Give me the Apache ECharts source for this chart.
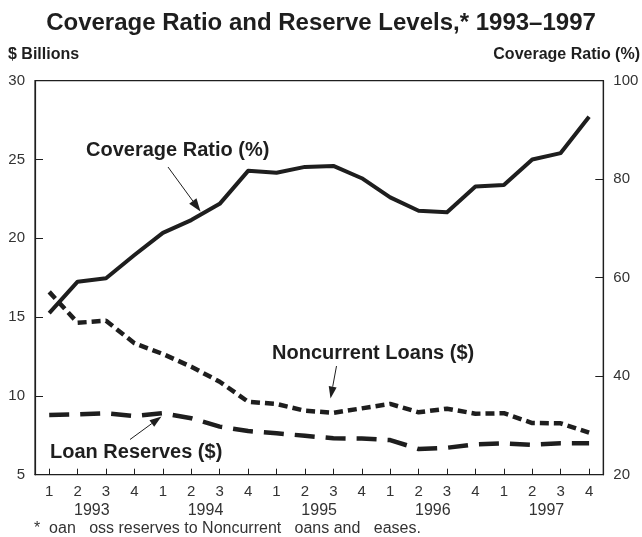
<!DOCTYPE html>
<html>
<head>
<meta charset="utf-8">
<title>Coverage Ratio and Reserve Levels, 1993–1997</title>
<script src="https://cdn.jsdelivr.net/npm/echarts@6/dist/echarts.min.js"></script>
<style>
  html, body { margin: 0; padding: 0; background: #fff; }
  #chart { width: 642px; height: 537px; }
</style>
</head>
<body>
<div id="chart"></div>
<script>
// Quarterly series, 1993 Q1 – 1997 Q4
const years = ['1993', '1994', '1995', '1996', '1997'];
const quarterLabels = ['1', '2', '3', '4'];

// Coverage ratio, percent (right axis)
const coverageRatio = [52.8, 59.2, 59.9, 64.6, 69.1, 71.7, 75.0, 81.7, 81.3, 82.5,
                       82.7, 80.2, 76.3, 73.6, 73.3, 78.5, 78.8, 84.0, 85.3, 92.7];
// Noncurrent loans, $ billions (left axis)
const noncurrentLoans = [16.6, 14.64, 14.77, 13.34, 12.66, 11.85, 10.9, 9.63, 9.49, 9.06,
                         8.93, 9.21, 9.49, 8.96, 9.19, 8.87, 8.9, 8.28, 8.26, 7.67];
// Loan loss reserves, $ billions (left axis)
const loanReserves = [8.79, 8.83, 8.9, 8.72, 8.9, 8.58, 8.05, 7.77, 7.63, 7.47,
                      7.31, 7.29, 7.2, 6.63, 6.71, 6.93, 6.99, 6.9, 6.99, 6.99];

const categories = [];
years.forEach(y => quarterLabels.forEach(q => categories.push(y + '-' + q)));

const FONT = "'Liberation Sans', Arial, Helvetica, sans-serif";
const INK = '#1e1e1e';
const LABEL = '#333';

const chart = echarts.init(document.getElementById('chart'), null, { renderer: 'canvas' });

// Thin arrow with a filled head pointing at (x2, y2)
function arrow(x1, y1, x2, y2, headLen, headHalf) {
  const dx = x2 - x1, dy = y2 - y1;
  const len = Math.sqrt(dx * dx + dy * dy);
  const ux = dx / len, uy = dy / len;
  const bx = x2 - ux * headLen, by = y2 - uy * headLen;
  return {
    type: 'group',
    silent: true,
    children: [
      { type: 'line', shape: { x1: x1, y1: y1, x2: bx, y2: by },
        style: { stroke: INK, lineWidth: 1 } },
      { type: 'polygon',
        shape: { points: [[x2, y2], [bx - uy * headHalf, by + ux * headHalf], [bx + uy * headHalf, by - ux * headHalf]] },
        style: { fill: INK } }
    ]
  };
}

function text(str, x, y, opts) {
  return {
    type: 'text',
    x: x, y: y,
    silent: true,
    style: Object.assign({
      text: str,
      fontFamily: FONT,
      fontSize: 16,
      fontWeight: 'bold',
      fill: INK,
      textAlign: 'left',
      textVerticalAlign: 'middle'
    }, opts || {})
  };
}

const option = {
  animation: false,
  backgroundColor: '#fff',
  textStyle: { fontFamily: FONT },
  title: {
    text: 'Coverage Ratio and Reserve Levels,* 1993–1997',
    left: 'center',
    top: 6,
    textStyle: { fontFamily: FONT, fontSize: 24, fontWeight: 'bold', color: INK }
  },
  grid: {
    left: 35, right: 38.7, top: 80.7, bottom: 62.3,
    show: true, borderColor: INK, borderWidth: 1.2, backgroundColor: 'transparent'
  },
  xAxis: [
    {
      type: 'category',
      data: categories,
      boundaryGap: true,
      position: 'bottom',
      axisLine: { show: true, lineStyle: { color: INK, width: 1.2 } },
      axisTick: { show: true, inside: true, length: 6, alignWithLabel: true,
                  lineStyle: { color: INK, width: 1 } },
      axisLabel: { interval: 0, margin: 10, fontSize: 15, color: LABEL, fontFamily: FONT,
                   formatter: v => v.split('-')[1] },
      splitLine: { show: false }
    },
    {
      type: 'category',
      data: years,
      boundaryGap: true,
      position: 'bottom',
      offset: 18,
      axisLine: { show: false },
      axisTick: { show: false },
      axisLabel: { interval: 0, margin: 10, fontSize: 16, color: LABEL, fontFamily: FONT },
      splitLine: { show: false }
    }
  ],
  yAxis: [
    {
      type: 'value',
      min: 5, max: 30, interval: 5,
      position: 'left',
      axisLine: { show: true, lineStyle: { color: INK, width: 1.2 } },
      axisTick: { show: true, inside: true, length: 8, lineStyle: { color: INK, width: 1 } },
      axisLabel: { margin: 10, fontSize: 15, color: LABEL, fontFamily: FONT },
      splitLine: { show: false }
    },
    {
      type: 'value',
      min: 20, max: 100, interval: 20,
      position: 'right',
      axisLine: { show: true, lineStyle: { color: INK, width: 1.2 } },
      axisTick: { show: true, inside: true, length: 8, lineStyle: { color: INK, width: 1 } },
      axisLabel: { margin: 10, fontSize: 15, color: LABEL, fontFamily: FONT },
      splitLine: { show: false }
    }
  ],
  series: [
    {
      name: 'Loan Reserves ($)',
      type: 'line',
      xAxisIndex: 0, yAxisIndex: 0,
      data: loanReserves,
      symbol: 'none',
      lineStyle: { color: INK, width: 4.5, type: [20, 11], cap: 'butt' }
    },
    {
      name: 'Noncurrent Loans ($)',
      type: 'line',
      xAxisIndex: 0, yAxisIndex: 0,
      data: noncurrentLoans,
      symbol: 'none',
      lineStyle: { color: INK, width: 4.5, type: [9, 5], cap: 'butt' }
    },
    {
      name: 'Coverage Ratio (%)',
      type: 'line',
      xAxisIndex: 0, yAxisIndex: 1,
      data: coverageRatio,
      symbol: 'none',
      lineStyle: { color: INK, width: 4, join: 'round' }
    }
  ],
  graphic: [
    text('$ Billions', 8, 55),
    text('Coverage Ratio (%)', 640, 55, { textAlign: 'right' }),
    text('Coverage Ratio (%)', 86, 150, { fontSize: 20 }),
    arrow(168, 167, 200.5, 211.5, 13, 4.5),
    text('Noncurrent Loans ($)', 272, 353, { fontSize: 20 }),
    arrow(336.5, 366, 330.5, 398.5, 12, 4),
    text('Loan Reserves ($)', 50, 452, { fontSize: 20 }),
    arrow(130, 439.5, 161.5, 416.5, 12, 4),
    text('*  oan   oss reserves to Noncurrent   oans and   eases.', 34, 529,
         { fontSize: 16, fontWeight: 'normal', fill: '#333' })
  ]
};

chart.setOption(option);
</script>
</body>
</html>
